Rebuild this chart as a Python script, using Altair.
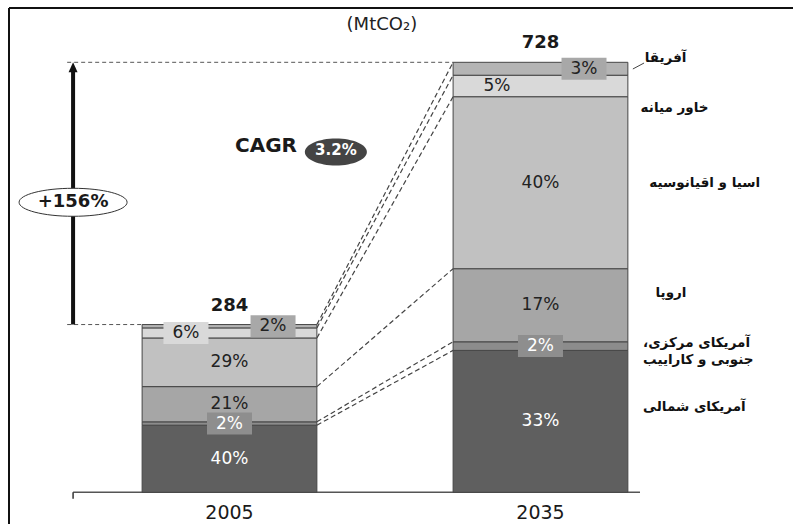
import altair as alt
import pandas as pd

# ---- data -------------------------------------------------------------
years = ["2005", "2035"]
totals = [284, 728]                      # MtCO2
regions = [
    "آمریکای شمالی",
    "آمریکای مرکزی،\u200f\nجنوبی و کاراییب",
    "اروپا",
    "اسیا و اقیانوسیه",
    "خاور میانه",
    "آفریقا",
]
shares_2005 = [40, 2, 21, 29, 6, 2]      # % of total, bottom to top
shares_2035 = [33, 2, 17, 40, 5, 3]
growth_label = "+156%"
cagr_label = "3.2%"
unit_label = "(MtCO₂)"

# ---- layout / style ---------------------------------------------------
W, H = 793, 524
X_DOMAIN = [0.262, 2.812]                # bar slots at 1 and 2
Y_DOMAIN = [-53.7, 833.5]                # MtCO2
PX = H / (Y_DOMAIN[1] - Y_DOMAIN[0])     # pixels per MtCO2
BAR_HALF = 0.281
centers = [1, 2]

fills = ["#5f5f5f", "#8c8c8c", "#a6a6a6", "#c1c1c1", "#d9d9d9", "#b4b4b4"]
box_fills = ["#5f5f5f", "#8e8e8e", "#a6a6a6", "#c1c1c1", "#d9d9d9", "#a8a8a8"]
text_fills = ["white", "white", "#222222", "#222222", "#222222", "#222222"]
label_shift = [0, 0, 0, 0, -0.14, 0.14]  # small top segments: labels to the side
region_label_y = [145, 252, 337, 523, 650, 735]
region_label_x = [2.33, 2.33, 2.37, 2.35, 2.322, 2.335]

FONT = "DejaVu Sans"

xs = alt.Scale(domain=X_DOMAIN, range=[0, W], nice=False, zero=False)
ys = alt.Scale(domain=Y_DOMAIN, range=[H, 0], nice=False, zero=False)


def X(f):
    return alt.X(f, type="quantitative", scale=xs, axis=None)


def Y(f):
    return alt.Y(f, type="quantitative", scale=ys, axis=None)


# ---- segment table ----------------------------------------------------
rows = []
tops = {}
for year, total, shares, c in zip(years, totals, [shares_2005, shares_2035], centers):
    base = 0.0
    tops[year] = []
    for i, (reg, s) in enumerate(zip(regions, shares)):
        v = total * s / 100
        y0, y1 = base, base + v
        rows.append(dict(
            year=year, region=reg, share=s, label=f"{s}%",
            x0=c - BAR_HALF, x1=c + BAR_HALF,
            y0=y0, y1=y1, mid=(y0 + y1) / 2,
            lx=c + label_shift[i],
            fill=fills[i], box=box_fills[i], tcol=text_fills[i],
            boxed=v * PX < 18,
        ))
        tops[year].append(y1)
        base = y1
seg = pd.DataFrame(rows)

bars = alt.Chart(seg).mark_rect(stroke="#454545", strokeWidth=1).encode(
    x=X("x0"), x2="x1", y=Y("y0"), y2="y1",
    fill=alt.Color("fill:N", scale=None),
)

box_shape = "M-1,-0.49L1,-0.49L1,0.49L-1,0.49Z"
boxes = alt.Chart(seg[seg.boxed]).mark_point(
    shape=box_shape, size=45 ** 2, filled=True, opacity=1, strokeWidth=0
).encode(x=X("lx"), y=Y("mid"), fill=alt.Color("box:N", scale=None))

seg_labels = alt.Chart(seg).mark_text(font=FONT, fontSize=17, baseline="middle").encode(
    x=X("lx"), y=Y("mid"), text="label:N",
    color=alt.Color("tcol:N", scale=None),
)

# ---- connectors between the bars --------------------------------------
conn = pd.DataFrame({
    "xa": [centers[0] + BAR_HALF] * len(regions),
    "xb": [centers[1] - BAR_HALF] * len(regions),
    "ya": tops[years[0]],
    "yb": tops[years[1]],
})
connectors = alt.Chart(conn).mark_rule(
    color="#444444", strokeWidth=1.2, strokeDash=[5, 3]
).encode(x=X("xa"), x2="xb", y=Y("ya"), y2="yb")

# dashed reference lines at the two totals
arrow_x = 0.497
ref = pd.DataFrame({"xa": [0.478, 0.478],
                    "xb": [centers[0] - BAR_HALF, centers[1] - BAR_HALF],
                    "y": totals})
ref_lines = alt.Chart(ref).mark_rule(
    color="#555555", strokeWidth=1, strokeDash=[4, 3]
).encode(x=X("xa"), x2="xb", y=Y("y"))

# totals above bars
tot = pd.DataFrame({"x": centers, "y": [t + 19 / PX for t in totals],
                    "t": [str(t) for t in totals]})
tot_text = alt.Chart(tot).mark_text(
    font=FONT, fontSize=18, fontWeight="bold", color="#1a1a1a", baseline="middle"
).encode(x=X("x"), y=Y("y"), text="t:N")

# year labels under the bars
yr = pd.DataFrame({"x": centers, "y": [-35, -35], "t": years})
yr_text = alt.Chart(yr).mark_text(
    font=FONT, fontSize=19, color="#1a1a1a", baseline="middle"
).encode(x=X("x"), y=Y("y"), text="t:N")

# baseline with a small tick at its left end
base_df = pd.DataFrame({"xa": [arrow_x], "xb": [2.32], "y": [0]})
baseline = alt.Chart(base_df).mark_rule(color="#555555", strokeWidth=1.5).encode(
    x=X("xa"), x2="xb", y=Y("y"))
tick = alt.Chart(pd.DataFrame({"x": [arrow_x], "ya": [0], "yb": [-11]})).mark_rule(
    color="#333333", strokeWidth=1.5).encode(x=X("x"), y=Y("ya"), y2="yb")

# growth arrow
head_r = 5
arrow_df = pd.DataFrame({"x": [arrow_x], "ya": [totals[0]],
                         "yb": [totals[1] - head_r / PX]})
arrow = alt.Chart(arrow_df).mark_rule(color="#111111", strokeWidth=4).encode(
    x=X("x"), y=Y("ya"), y2="yb")
head = alt.Chart(pd.DataFrame({"x": [arrow_x], "y": [totals[1] - head_r / PX]})).mark_point(
    shape="M0,-1L0.9,1L-0.9,1Z", size=(2 * head_r) ** 2, filled=True,
    color="#111111", opacity=1
).encode(x=X("x"), y=Y("y"))


def ellipse(e):
    k = 0.5523
    return (f"M-1,0C-1,{-k*e:.4f} {-k:.4f},{-e:.4f} 0,{-e:.4f}"
            f"C{k:.4f},{-e:.4f} 1,{-k*e:.4f} 1,0"
            f"C1,{k*e:.4f} {k:.4f},{e:.4f} 0,{e:.4f}"
            f"C{-k:.4f},{e:.4f} -1,{k*e:.4f} -1,0Z")


g_df = pd.DataFrame({"x": [arrow_x], "y": [491], "t": [growth_label]})
g_ell = alt.Chart(g_df).mark_point(
    shape=ellipse(14 / 54), size=108 ** 2, filled=True, fill="white",
    stroke="#333333", strokeWidth=1, opacity=1
).encode(x=X("x"), y=Y("y"))
g_text = alt.Chart(g_df).mark_text(
    font=FONT, fontSize=18, fontWeight="bold", color="#1a1a1a", baseline="middle"
).encode(x=X("x"), y=Y("y"), text="t:N")

# CAGR badge
cagr_word = alt.Chart(pd.DataFrame({"x": [1.217], "y": [586], "t": ["CAGR"]})).mark_text(
    font=FONT, fontSize=20, fontWeight="bold", color="#1a1a1a", align="right",
    baseline="middle"
).encode(x=X("x"), y=Y("y"), text="t:N")
c_ell = alt.Chart(pd.DataFrame({"x": [1.342], "y": [576]})).mark_point(
    shape=ellipse(13.5 / 31), size=62 ** 2, filled=True, color="#444444", opacity=1
).encode(x=X("x"), y=Y("y"))
c_text = alt.Chart(pd.DataFrame({"x": [1.342], "y": [580], "t": [cagr_label]})).mark_text(
    font=FONT, fontSize=15, fontWeight="bold", color="white", baseline="middle"
).encode(x=X("x"), y=Y("y"), text="t:N")

# unit title
title = alt.Chart(pd.DataFrame({"x": [1.49], "y": [791], "t": [unit_label]})).mark_text(
    font=FONT, fontSize=18, color="#222222", baseline="middle"
).encode(x=X("x"), y=Y("y"), text="t:N")

# region names to the right of the 2035 bar
reg_df = pd.DataFrame({"x": region_label_x, "y": region_label_y, "t": regions})
reg_text = alt.Chart(reg_df).mark_text(
    font=FONT, fontSize=13.5, fontWeight="bold", color="#111111", align="left",
    baseline="middle", lineBreak="\n", lineHeight=17
).encode(x=X("x"), y=Y("y"), text="t:N")
leader = alt.Chart(pd.DataFrame({"xa": [2.297], "xb": [2.333],
                                 "ya": [716.7], "yb": [726.8]})).mark_rule(
    color="#444444", strokeWidth=1).encode(x=X("xa"), x2="xb", y=Y("ya"), y2="yb")

# frame on the top and left edges
frame_top = alt.Chart(pd.DataFrame({"a": [0]})).mark_rule(color="#111111", strokeWidth=2).encode(
    x=alt.value(9), x2=alt.value(W), y=alt.value(8))
frame_left = alt.Chart(pd.DataFrame({"a": [0]})).mark_rule(color="#111111", strokeWidth=2).encode(
    x=alt.value(9), y=alt.value(8), y2=alt.value(H))

chart = alt.layer(
    frame_top, frame_left,
    ref_lines, connectors, baseline, tick,
    bars, boxes, seg_labels, tot_text, yr_text,
    arrow, head, g_ell, g_text,
    cagr_word, c_ell, c_text, title, reg_text, leader,
).properties(
    width=W, height=H, padding=0, autosize=alt.AutoSizeParams(type="none"),
    background="white",
).configure_view(stroke=None)

chart.save("out.html", embed_options={"renderer": "svg", "actions": False})
